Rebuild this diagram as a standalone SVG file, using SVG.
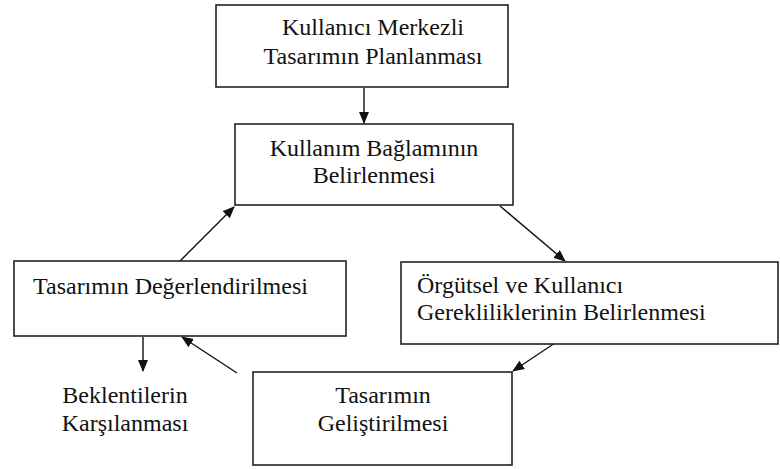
<svg xmlns="http://www.w3.org/2000/svg" width="780" height="469" viewBox="0 0 780 469">
<defs>
<marker id="ah" markerWidth="12" markerHeight="10" refX="11" refY="5" orient="auto" markerUnits="userSpaceOnUse">
<path d="M0,0 L12,5 L0,10 Z" fill="#111"/>
</marker>
<style>
.box{fill:#fff;stroke:#222;stroke-width:1.6}
.t{font-family:'Liberation Serif','Times New Roman',serif;font-size:24px;fill:#111}
.c{text-anchor:middle}
.e{stroke:#111;stroke-width:1.4;fill:none;marker-end:url(#ah)}
</style>
</defs>
<rect width="780" height="469" fill="#fff"/>
<g id="connectors">
<line class="e" x1="364" y1="88" x2="364" y2="123"/>
<line class="e" x1="500" y1="206" x2="565" y2="261"/>
<line class="e" x1="567" y1="335" x2="513" y2="371"/>
<line class="e" x1="237" y1="373" x2="182" y2="337"/>
<line class="e" x1="180" y1="261" x2="234" y2="207"/>
<line class="e" x1="143" y1="337" x2="143" y2="371"/>
</g>
<g id="n1">
<rect class="box" x="216" y="5" width="292" height="82"/>
<text class="t c" x="373" y="35">Kullanıcı Merkezli</text>
<text class="t c" x="373" y="64">Tasarımın Planlanması</text>
</g>
<g id="n2">
<rect class="box" x="235" y="124" width="278" height="81"/>
<text class="t c" x="374" y="156">Kullanım Bağlamının</text>
<text class="t c" x="374" y="183">Belirlenmesi</text>
</g>
<g id="n3">
<rect class="box" x="401" y="262" width="377" height="82"/>
<text class="t" x="417" y="293">Örgütsel ve Kullanıcı</text>
<text class="t" x="417" y="320">Gerekliliklerinin Belirlenmesi</text>
</g>
<g id="n4">
<rect class="box" x="253" y="372" width="259" height="93"/>
<text class="t c" x="383" y="403">Tasarımın</text>
<text class="t c" x="383" y="431">Geliştirilmesi</text>
</g>
<g id="n5">
<rect class="box" x="14" y="261" width="332" height="75"/>
<text class="t" x="33" y="294">Tasarımın Değerlendirilmesi</text>
</g>
<g id="n6">
<text class="t c" x="125" y="403">Beklentilerin</text>
<text class="t c" x="125" y="431">Karşılanması</text>
</g>
</svg>
